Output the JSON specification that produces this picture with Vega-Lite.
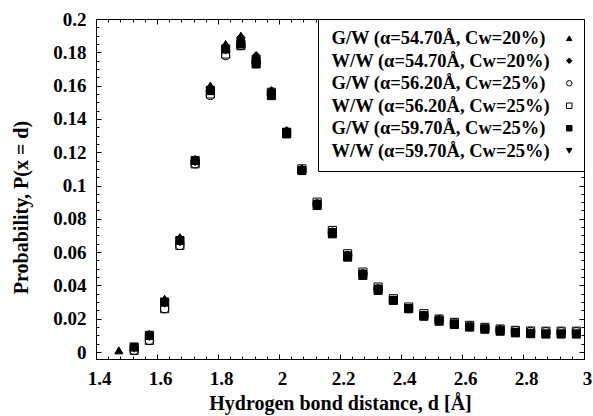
{
"$schema":"https://vega.github.io/schema/vega-lite/v6.json",
"width":488,"height":340,
"autosize":{"type":"none"},
"padding":{"left":96,"top":19,"right":9,"bottom":57},
"background":"white",
"config":{
"view":{"stroke":"black","strokeWidth":1},
"axis":{"labelFont":"Liberation Serif","labelFontWeight":"bold","labelFontSize":19,"labelColor":"black","titleFont":"Liberation Serif","titleFontWeight":"bold","titleFontSize":20,"titleColor":"black","grid":false,"domain":false,"tickColor":"black","tickWidth":1,"labelOverlap":false,"labelFlush":false},
"legend":{"orient":"top-right","offset":0,"strokeColor":"black","fillColor":"white","padding":10,"labelFont":"Liberation Serif","labelFontWeight":"bold","labelFontSize":18.5,"labelColor":"black","symbolSize":30,"symbolOffset":232,"labelAlign":"left","labelOffset":-247,"rowPadding":3.5,"symbolStrokeWidth":1,"labelLimit":0,"cornerRadius":0}
},
"data":{"values":[
{"s":"A","d":1.475,"p":0.001},{"s":"A","d":1.525,"p":0.003},{"s":"A","d":1.575,"p":0.011},{"s":"A","d":1.625,"p":0.032},{"s":"A","d":1.675,"p":0.069},{"s":"A","d":1.725,"p":0.116},{"s":"A","d":1.775,"p":0.160},{"s":"A","d":1.825,"p":0.185},{"s":"A","d":1.875,"p":0.190},{"s":"A","d":1.925,"p":0.178},{"s":"A","d":1.975,"p":0.157},{"s":"A","d":2.025,"p":0.133},{"s":"A","d":2.075,"p":0.110},{"s":"A","d":2.125,"p":0.089},{"s":"A","d":2.175,"p":0.072},{"s":"A","d":2.225,"p":0.058},{"s":"A","d":2.275,"p":0.047},{"s":"A","d":2.325,"p":0.038},{"s":"A","d":2.375,"p":0.031},{"s":"A","d":2.425,"p":0.026},{"s":"A","d":2.475,"p":0.022},{"s":"A","d":2.525,"p":0.019},{"s":"A","d":2.575,"p":0.017},{"s":"A","d":2.625,"p":0.015},{"s":"A","d":2.675,"p":0.014},{"s":"A","d":2.725,"p":0.013},{"s":"A","d":2.775,"p":0.012},{"s":"A","d":2.825,"p":0.0115},{"s":"A","d":2.875,"p":0.011},{"s":"A","d":2.925,"p":0.011},{"s":"A","d":2.975,"p":0.011},
{"s":"B","d":1.525,"p":0.003},{"s":"B","d":1.575,"p":0.010},{"s":"B","d":1.625,"p":0.031},{"s":"B","d":1.675,"p":0.068},{"s":"B","d":1.725,"p":0.115},{"s":"B","d":1.775,"p":0.159},{"s":"B","d":1.825,"p":0.184},{"s":"B","d":1.875,"p":0.189},{"s":"B","d":1.925,"p":0.178},{"s":"B","d":1.975,"p":0.157},{"s":"B","d":2.025,"p":0.133},{"s":"B","d":2.075,"p":0.110},{"s":"B","d":2.125,"p":0.089},{"s":"B","d":2.175,"p":0.072},{"s":"B","d":2.225,"p":0.058},{"s":"B","d":2.275,"p":0.047},{"s":"B","d":2.325,"p":0.038},{"s":"B","d":2.375,"p":0.031},{"s":"B","d":2.425,"p":0.026},{"s":"B","d":2.475,"p":0.022},{"s":"B","d":2.525,"p":0.019},{"s":"B","d":2.575,"p":0.017},{"s":"B","d":2.625,"p":0.015},{"s":"B","d":2.675,"p":0.014},{"s":"B","d":2.725,"p":0.013},{"s":"B","d":2.775,"p":0.012},{"s":"B","d":2.825,"p":0.0115},{"s":"B","d":2.875,"p":0.011},{"s":"B","d":2.925,"p":0.011},{"s":"B","d":2.975,"p":0.011},
{"s":"C","d":1.525,"p":0.001},{"s":"C","d":1.575,"p":0.007},{"s":"C","d":1.625,"p":0.026},{"s":"C","d":1.675,"p":0.064},{"s":"C","d":1.725,"p":0.113},{"s":"C","d":1.775,"p":0.154},{"s":"C","d":1.825,"p":0.178},{"s":"C","d":1.875,"p":0.184},{"s":"C","d":1.925,"p":0.174},{"s":"C","d":1.975,"p":0.155},{"s":"C","d":2.025,"p":0.132},{"s":"C","d":2.075,"p":0.109},{"s":"C","d":2.125,"p":0.089},{"s":"C","d":2.175,"p":0.072},{"s":"C","d":2.225,"p":0.058},{"s":"C","d":2.275,"p":0.047},{"s":"C","d":2.325,"p":0.038},{"s":"C","d":2.375,"p":0.031},{"s":"C","d":2.425,"p":0.026},{"s":"C","d":2.475,"p":0.022},{"s":"C","d":2.525,"p":0.0195},{"s":"C","d":2.575,"p":0.0175},{"s":"C","d":2.625,"p":0.0155},{"s":"C","d":2.675,"p":0.0145},{"s":"C","d":2.725,"p":0.0135},{"s":"C","d":2.775,"p":0.0128},{"s":"C","d":2.825,"p":0.0124},{"s":"C","d":2.875,"p":0.0122},{"s":"C","d":2.925,"p":0.0122},{"s":"C","d":2.975,"p":0.0122},
{"s":"D","d":1.525,"p":0.001},{"s":"D","d":1.575,"p":0.007},{"s":"D","d":1.625,"p":0.026},{"s":"D","d":1.675,"p":0.064},{"s":"D","d":1.725,"p":0.113},{"s":"D","d":1.775,"p":0.155},{"s":"D","d":1.825,"p":0.179},{"s":"D","d":1.875,"p":0.184},{"s":"D","d":1.925,"p":0.175},{"s":"D","d":1.975,"p":0.156},{"s":"D","d":2.025,"p":0.132},{"s":"D","d":2.075,"p":0.110},{"s":"D","d":2.125,"p":0.090},{"s":"D","d":2.175,"p":0.073},{"s":"D","d":2.225,"p":0.059},{"s":"D","d":2.275,"p":0.048},{"s":"D","d":2.325,"p":0.039},{"s":"D","d":2.375,"p":0.032},{"s":"D","d":2.425,"p":0.027},{"s":"D","d":2.475,"p":0.023},{"s":"D","d":2.525,"p":0.0198},{"s":"D","d":2.575,"p":0.0178},{"s":"D","d":2.625,"p":0.016},{"s":"D","d":2.675,"p":0.0148},{"s":"D","d":2.725,"p":0.0138},{"s":"D","d":2.775,"p":0.013},{"s":"D","d":2.825,"p":0.0126},{"s":"D","d":2.875,"p":0.0125},{"s":"D","d":2.925,"p":0.0125},{"s":"D","d":2.975,"p":0.0125},
{"s":"E","d":1.525,"p":0.003},{"s":"E","d":1.575,"p":0.010},{"s":"E","d":1.625,"p":0.030},{"s":"E","d":1.675,"p":0.067},{"s":"E","d":1.725,"p":0.115},{"s":"E","d":1.775,"p":0.157},{"s":"E","d":1.825,"p":0.182},{"s":"E","d":1.875,"p":0.185},{"s":"E","d":1.925,"p":0.173},{"s":"E","d":1.975,"p":0.154},{"s":"E","d":2.025,"p":0.131},{"s":"E","d":2.075,"p":0.109},{"s":"E","d":2.125,"p":0.088},{"s":"E","d":2.175,"p":0.071},{"s":"E","d":2.225,"p":0.057},{"s":"E","d":2.275,"p":0.046},{"s":"E","d":2.325,"p":0.037},{"s":"E","d":2.375,"p":0.031},{"s":"E","d":2.425,"p":0.026},{"s":"E","d":2.475,"p":0.0215},{"s":"E","d":2.525,"p":0.0185},{"s":"E","d":2.575,"p":0.0165},{"s":"E","d":2.625,"p":0.015},{"s":"E","d":2.675,"p":0.0137},{"s":"E","d":2.725,"p":0.0125},{"s":"E","d":2.775,"p":0.0115},{"s":"E","d":2.825,"p":0.011},{"s":"E","d":2.875,"p":0.0108},{"s":"E","d":2.925,"p":0.0108},{"s":"E","d":2.975,"p":0.0108},
{"s":"F","d":1.525,"p":0.002},{"s":"F","d":1.575,"p":0.009},{"s":"F","d":1.625,"p":0.029},{"s":"F","d":1.675,"p":0.066},{"s":"F","d":1.725,"p":0.114},{"s":"F","d":1.775,"p":0.157},{"s":"F","d":1.825,"p":0.181},{"s":"F","d":1.875,"p":0.186},{"s":"F","d":1.925,"p":0.175},{"s":"F","d":1.975,"p":0.155},{"s":"F","d":2.025,"p":0.132},{"s":"F","d":2.075,"p":0.109},{"s":"F","d":2.125,"p":0.089},{"s":"F","d":2.175,"p":0.072},{"s":"F","d":2.225,"p":0.058},{"s":"F","d":2.275,"p":0.047},{"s":"F","d":2.325,"p":0.038},{"s":"F","d":2.375,"p":0.031},{"s":"F","d":2.425,"p":0.026},{"s":"F","d":2.475,"p":0.022},{"s":"F","d":2.525,"p":0.019},{"s":"F","d":2.575,"p":0.017},{"s":"F","d":2.625,"p":0.015},{"s":"F","d":2.675,"p":0.014},{"s":"F","d":2.725,"p":0.013},{"s":"F","d":2.775,"p":0.012},{"s":"F","d":2.825,"p":0.0115},{"s":"F","d":2.875,"p":0.011},{"s":"F","d":2.925,"p":0.011},{"s":"F","d":2.975,"p":0.011}
]},
"resolve":{"axis":{"x":"independent","y":"independent"}},
"layer":[
{"mark":{"type":"point","filled":true,"strokeWidth":1,"size":66,"opacity":1},
"encoding":{
"x":{"field":"d","type":"quantitative","scale":{"domain":[1.4,3.0],"nice":false,"zero":false},"axis":{"orient":"bottom","values":[1.4,1.6,1.8,2,2.2,2.4,2.6,2.8,3],"format":"~g","ticks":false,"labelFlush":false,"labelOffset":3,"labelPadding":10,"title":"Hydrogen bond distance, d [Å]","titlePadding":5}},
"y":{"field":"p","type":"quantitative","scale":{"domain":[-0.0042,0.2],"nice":false,"zero":false},"axis":{"orient":"left","values":[0,0.02,0.04,0.06,0.08,0.1,0.12,0.14,0.16,0.18,0.2],"format":"~g","ticks":false,"labelFlush":false,"labelPadding":10,"title":"Probability, P(x = d)","titlePadding":21,"titleY":188}},
"stroke":{"field":"s","type":"nominal","scale":{"domain":["A","B","C","D","E","F"],"range":["black","black","black","black","black","black"]},"legend":{"title":null,"labelExpr":"{'A':'G/W (α=54.70Å, Cw=20%)','B':'W/W (α=54.70Å, Cw=20%)','C':'G/W (α=56.20Å, Cw=25%)','D':'W/W (α=56.20Å, Cw=25%)','E':'G/W (α=59.70Å, Cw=25%)','F':'W/W (α=59.70Å, Cw=25%)'}[datum.value]"}},
"shape":{"field":"s","type":"nominal","scale":{"domain":["A","B","C","D","E","F"],"range":["triangle-up","diamond","circle","square","square","triangle-down"]},"legend":{"title":null,"labelExpr":"{'A':'G/W (α=54.70Å, Cw=20%)','B':'W/W (α=54.70Å, Cw=20%)','C':'G/W (α=56.20Å, Cw=25%)','D':'W/W (α=56.20Å, Cw=25%)','E':'G/W (α=59.70Å, Cw=25%)','F':'W/W (α=59.70Å, Cw=25%)'}[datum.value]"}},
"fill":{"field":"s","type":"nominal","scale":{"domain":["A","B","C","D","E","F"],"range":["black","black","transparent","transparent","black","black"]},"legend":{"title":null,"labelExpr":"{'A':'G/W (α=54.70Å, Cw=20%)','B':'W/W (α=54.70Å, Cw=20%)','C':'G/W (α=56.20Å, Cw=25%)','D':'W/W (α=56.20Å, Cw=25%)','E':'G/W (α=59.70Å, Cw=25%)','F':'W/W (α=59.70Å, Cw=25%)'}[datum.value]"}}
}},
{"mark":{"type":"point","opacity":0},
"encoding":{
"x":{"field":"d","type":"quantitative","scale":{"domain":[1.4,3.0],"nice":false,"zero":false},"axis":{"orient":"bottom","values":[1.4,1.6,1.8,2,2.2,2.4,2.6,2.8,3],"labels":false,"tickSize":5,"offset":-5,"title":null}},
"y":{"field":"p","type":"quantitative","scale":{"domain":[-0.0042,0.2],"nice":false,"zero":false},"axis":{"orient":"left","values":[0,0.02,0.04,0.06,0.08,0.1,0.12,0.14,0.16,0.18,0.2],"labels":false,"tickSize":5,"offset":-5,"title":null}}
}},
{"mark":{"type":"point","opacity":0},
"encoding":{
"x":{"field":"d","type":"quantitative","scale":{"domain":[1.4,3.0],"nice":false,"zero":false},"axis":{"orient":"bottom","values":[1.4,1.44,1.48,1.52,1.56,1.6,1.64,1.68,1.72,1.76,1.8,1.84,1.88,1.92,1.96,2,2.04,2.08,2.12,2.16,2.2,2.24,2.28,2.32,2.36,2.4,2.44,2.48,2.52,2.56,2.6,2.64,2.68,2.72,2.76,2.8,2.84,2.88,2.92,2.96,3],"labels":false,"tickSize":3,"offset":-3,"title":null}},
"y":{"field":"p","type":"quantitative","scale":{"domain":[-0.0042,0.2],"nice":false,"zero":false},"axis":{"orient":"left","values":[0,0.005,0.01,0.015,0.02,0.025,0.03,0.035,0.04,0.045,0.05,0.055,0.06,0.065,0.07,0.075,0.08,0.085,0.09,0.095,0.1,0.105,0.11,0.115,0.12,0.125,0.13,0.135,0.14,0.145,0.15,0.155,0.16,0.165,0.17,0.175,0.18,0.185,0.19,0.195,0.2],"labels":false,"tickSize":3,"offset":-3,"title":null}}
}},
{"mark":{"type":"point","opacity":0},
"encoding":{
"x":{"field":"d","type":"quantitative","scale":{"domain":[1.4,3.0],"nice":false,"zero":false},"axis":{"orient":"top","values":[1.4,1.6,1.8,2,2.2,2.4,2.6,2.8,3],"labels":false,"tickSize":5,"offset":-5,"title":null}},
"y":{"field":"p","type":"quantitative","scale":{"domain":[-0.0042,0.2],"nice":false,"zero":false},"axis":{"orient":"right","values":[0,0.02,0.04,0.06,0.08,0.1,0.12,0.14,0.16,0.18,0.2],"labels":false,"tickSize":5,"offset":-5,"title":null}}
}},
{"mark":{"type":"point","opacity":0},
"encoding":{
"x":{"field":"d","type":"quantitative","scale":{"domain":[1.4,3.0],"nice":false,"zero":false},"axis":{"orient":"top","values":[1.4,1.44,1.48,1.52,1.56,1.6,1.64,1.68,1.72,1.76,1.8,1.84,1.88,1.92,1.96,2,2.04,2.08,2.12,2.16,2.2,2.24,2.28,2.32,2.36,2.4,2.44,2.48,2.52,2.56,2.6,2.64,2.68,2.72,2.76,2.8,2.84,2.88,2.92,2.96,3],"labels":false,"tickSize":3,"offset":-3,"title":null}},
"y":{"field":"p","type":"quantitative","scale":{"domain":[-0.0042,0.2],"nice":false,"zero":false},"axis":{"orient":"right","values":[0,0.005,0.01,0.015,0.02,0.025,0.03,0.035,0.04,0.045,0.05,0.055,0.06,0.065,0.07,0.075,0.08,0.085,0.09,0.095,0.1,0.105,0.11,0.115,0.12,0.125,0.13,0.135,0.14,0.145,0.15,0.155,0.16,0.165,0.17,0.175,0.18,0.185,0.19,0.195,0.2],"labels":false,"tickSize":3,"offset":-3,"title":null}}
}}
]
}
